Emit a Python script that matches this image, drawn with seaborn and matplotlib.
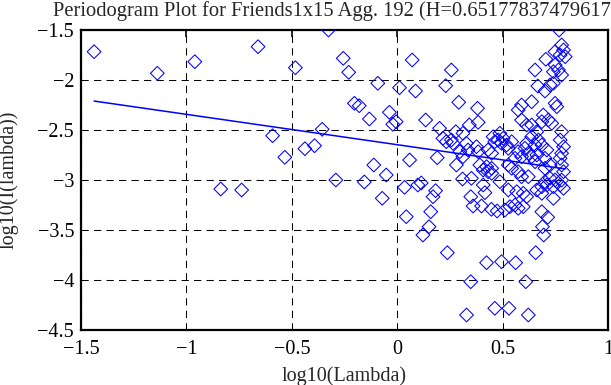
import numpy as np
import pandas as pd
import matplotlib
matplotlib.use("Agg")
import matplotlib.pyplot as plt
import seaborn as sns

# ---- data ----
log_lambda = [
    -1.438, -1.138, -0.960, -0.837, -0.738, -0.660, -0.591, -0.533, -0.483, -0.438,
    -0.392, -0.356, -0.326, -0.291,
    -0.256, -0.230, -0.203, -0.180, -0.156, -0.132, -0.111, -0.092, -0.071, -0.052,
    -0.037, -0.021, -0.005, 0.011,
    0.035, 0.043, 0.059, 0.071, 0.087, 0.098, 0.114, 0.122, 0.135, 0.151,
    0.159, 0.170, 0.182, 0.190, 0.201, 0.217, 0.230, 0.233, 0.238, 0.257,
    0.257, 0.265, 0.278, 0.281, 0.292, 0.297, 0.310, 0.312, 0.312, 0.328,
    0.336, 0.342, 0.424, 0.448,
    0.768, 0.780, 0.789, 0.797, 0.749, 0.773, 0.705, 0.654, 0.749, 0.765,
    0.780, 0.741, 0.667, 0.701, 0.725, 0.741, 0.638, 0.590, 0.574, 0.749,
    0.757, 0.381, 0.384, 0.590, 0.614, 0.693,
    0.717, 0.733, 0.686, 0.638, 0.662, 0.780, 0.487, 0.503, 0.479, 0.495,
    0.455, 0.463, 0.543, 0.519, 0.638, 0.670, 0.654, 0.614, 0.606, 0.622,
    0.686, 0.710, 0.773, 0.789, 0.780, 0.773,
    0.376, 0.384, 0.431, 0.448, 0.527, 0.574, 0.590, 0.559, 0.638, 0.654,
    0.662, 0.701, 0.725, 0.701, 0.780, 0.789, 0.392, 0.408, 0.448, 0.431,
    0.527, 0.543, 0.574, 0.590, 0.622,
    0.352, 0.725, 0.749, 0.780, 0.701, 0.487,
    0.349, 0.360, 0.400, 0.416, 0.408, 0.447, 0.474, 0.511, 0.535, 0.559,
    0.574, 0.598, 0.614, 0.567, 0.598, 0.686, 0.714, 0.689, 0.695, 0.657,
    0.424, 0.495, 0.562, 0.349, 0.610, 0.463, 0.530, 0.622, 0.329, 0.686,
    0.741, 0.686, 0.710, 0.741, 0.789, 0.773, 0.662, 0.527,
]
log_periodogram = [
    -1.717, -1.933, -1.817, -3.090, -3.100, -1.667, -2.557, -2.773, -1.877, -2.687,
    -2.657, -2.493, -1.500, -3.000,
    -1.783, -1.923, -2.233, -2.257, -3.020, -2.390, -2.850, -2.033, -3.183, -2.950,
    -2.323, -2.443, -2.417, -2.077,
    -3.073, -3.367, -2.800, -1.800, -2.110, -3.050, -3.030, -3.550, -2.400, -3.467,
    -3.317, -3.167, -3.107, -2.777, -2.483, -2.583, -2.057, -2.617, -3.727, -1.900,
    -2.600, -2.633, -2.517, -2.850, -2.223, -2.717, -2.990, -2.533, -2.767, -2.633,
    -2.700, -2.450, -2.867, -2.933,
    -1.500, -1.650, -1.700, -1.767, -1.717, -1.750, -1.793, -1.900, -1.850, -1.900,
    -1.950, -1.917, -2.060, -2.110, -2.050, -2.033, -2.217, -2.250, -2.300, -2.233,
    -2.267, -2.283, -2.423, -2.400, -2.450, -2.350,
    -2.400, -2.433, -2.417, -2.450, -2.517, -2.517, -2.533, -2.583, -2.600, -2.633,
    -2.567, -2.617, -2.617, -2.650, -2.567, -2.600, -2.650, -2.633, -2.683, -2.733,
    -2.650, -2.700, -2.600, -2.667, -2.733, -2.783,
    -2.667, -2.717, -2.700, -2.733, -2.683, -2.717, -2.767, -2.783, -2.767, -2.817,
    -2.750, -2.783, -2.850, -2.883, -2.850, -2.917, -2.850, -2.900, -2.883, -2.917,
    -2.850, -2.883, -2.917, -2.967, -2.967,
    -2.983, -2.983, -3.000, -3.000, -3.017, -3.017,
    -3.167, -3.260, -3.260, -3.127, -3.050, -3.293, -3.310, -3.300, -3.267, -3.250,
    -3.283, -3.267, -3.167, -3.117, -3.133, -3.317, -3.373, -3.467, -3.550, -3.727,
    -3.827, -3.817, -3.827, -4.017, -4.017, -4.283, -4.283, -4.350, -4.350, -3.133,
    -3.183, -3.067, -3.050, -3.067, -3.083, -3.050, -3.100, -3.100,
]
hurst = 0.65177837479617
fit_intercept = -2.647
title_text = "Periodogram Plot for Friends1x15 Agg. 192 (H=0.65177837479617)"
x_ticks = [-1.5, -1, -0.5, 0, 0.5, 1]
x_tick_labels = ["\u22121.5", "\u22121", "\u22120.5", "0", "0.5", "1"]
y_ticks = [-4.5, -4, -3.5, -3, -2.5, -2, -1.5]
y_tick_labels = ["\u22124.5", "\u22124", "\u22123.5", "\u22123", "\u22122.5", "\u22122", "\u22121.5"]

df = pd.DataFrame({"x": log_lambda, "y": log_periodogram})
slope = 1 - 2 * hurst
line_df = pd.DataFrame({"x": [min(log_lambda), max(log_lambda)]})
line_df["y"] = fit_intercept + slope * line_df["x"]

sns.set_style("white")
plt.rcParams["font.family"] = ["Liberation Serif", "DejaVu Serif"]
plt.rcParams["axes.unicode_minus"] = True

FS = 14.5
fig = plt.figure(figsize=(6.11, 3.85), dpi=100)
ax = fig.add_axes([81 / 611, 55 / 385, 527 / 611, 300 / 385])

sns.scatterplot(data=df, x="x", y="y", ax=ax, marker="D", s=49,
                facecolor="none", edgecolor="#0000ff", linewidth=0.75, zorder=3)
sns.lineplot(data=line_df, x="x", y="y", ax=ax, color="#0000ff", linewidth=1.1, zorder=4)

ax.set_xlim(-1.5, 1)
ax.set_ylim(-4.5, -1.5)
ax.set_xticks(x_ticks)
ax.set_xticklabels(x_tick_labels)
ax.set_yticks(y_ticks)
ax.set_yticklabels(y_tick_labels)
ax.tick_params(direction="in", length=5, width=1.2, top=True, right=True,
               labelsize=FS, colors="black")
ax.tick_params(axis="x", pad=7)
ax.tick_params(axis="y", pad=5)
ax.grid(True, color="black", linestyle=(0, (7, 5)), linewidth=0.75)
ax.set_axisbelow(True)
for sp in ax.spines.values():
    sp.set_linewidth(1.6)
    sp.set_color("black")
    sp.set_visible(True)

ax.set_xlabel("log10(Lambda)", fontsize=FS)
ax.set_ylabel("log10(I(lambda))", fontsize=FS)
ax.xaxis.set_label_coords(0.5, -(366 - 330) / 300)
ax.yaxis.set_label_coords((19 - 81) / 527, 0.5)
ax.set_title(title_text, fontsize=14.8, pad=10, x=0.483)

fig.savefig("out.png", dpi=100)
